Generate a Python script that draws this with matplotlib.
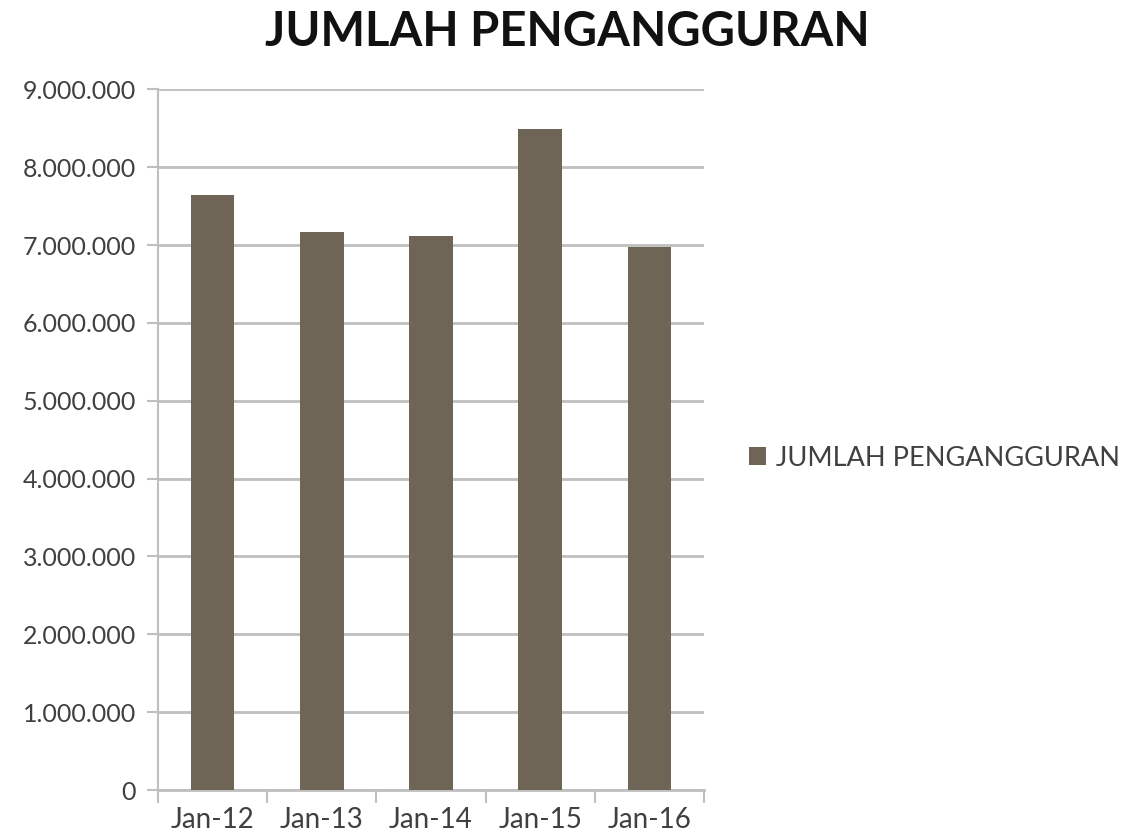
import matplotlib.pyplot as plt
from matplotlib.ticker import FuncFormatter

# data
categories = ['Jan-12', 'Jan-13', 'Jan-14', 'Jan-15', 'Jan-16']
jumlah = [7640000, 7170000, 7120000, 8490000, 6980000]
y_ticks = [0, 1000000, 2000000, 3000000, 4000000, 5000000, 6000000, 7000000, 8000000, 9000000]

bar_color = '#6f6556'
grid_color = '#bfbfbf'
text_color = '#404040'

plt.rcParams['font.family'] = ['Lato', 'DejaVu Sans']

fig = plt.figure(figsize=(11.24, 8.36), dpi=100)
ax = fig.add_axes([0.1406, 0.055, 0.4858, 0.838])

x = range(len(categories))
ax.bar(x, jumlah, width=0.4, color=bar_color, label='JUMLAH PENGANGGURAN', zorder=3)

ax.set_xlim(-0.5, len(categories) - 0.5)
ax.set_ylim(0, 9000000)
ax.set_yticks(y_ticks)
ax.yaxis.set_major_formatter(FuncFormatter(lambda v, p: f'{int(v):,}'.replace(',', '.')))
ax.grid(axis='y', color=grid_color, linewidth=2, zorder=0)

# category ticks at boundaries
ax.set_xticks([i - 0.5 for i in range(len(categories) + 1)], minor=False)
ax.set_xticklabels([''] * (len(categories) + 1))
ax.set_xticks(list(x), minor=True)
ax.set_xticklabels(categories, minor=True)
ax.tick_params(axis='x', which='minor', length=0, pad=12, labelsize=20, labelcolor=text_color)
ax.tick_params(axis='x', which='major', length=9, width=1.5, color=grid_color)
ax.tick_params(axis='y', length=8, width=1.5, color=grid_color, labelsize=18,
               labelcolor=text_color, pad=8)

for s in ['top', 'right']:
    ax.spines[s].set_visible(False)
ax.spines['left'].set_color(grid_color)
ax.spines['left'].set_linewidth(1.5)
ax.spines['bottom'].set_color(grid_color)
ax.spines['bottom'].set_linewidth(2)

fig.text(0.505, 0.962, 'JUMLAH PENGANGGURAN', ha='center', va='center',
         fontsize=34, fontweight='bold', color='#111111')

fig.legend(loc='center left', bbox_to_anchor=(0.645, 0.452), frameon=False,
           fontsize=19.5, labelcolor=text_color, handlelength=0.6, handleheight=0.6,
           handletextpad=0.4)

fig.savefig('out.png', dpi=100)
